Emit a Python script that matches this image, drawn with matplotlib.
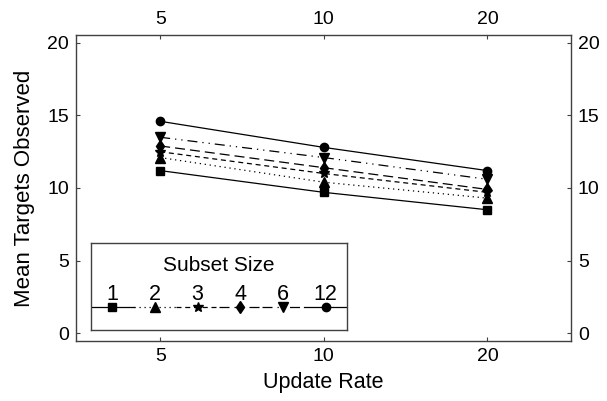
import matplotlib
matplotlib.use("Agg")
import matplotlib.pyplot as plt
from matplotlib.ticker import FixedLocator, NullLocator

plt.rcParams['font.family'] = ['Liberation Sans', 'DejaVu Sans']

update_rate = [5, 10, 20]
subset_sizes = ["1", "2", "3", "4", "6", "12"]
values = {
    "1":  [11.2, 9.7, 8.5],
    "2":  [12.1, 10.4, 9.3],
    "3":  [12.5, 11.0, 9.7],
    "4":  [12.9, 11.4, 9.9],
    "6":  [13.5, 12.1, 10.6],
    "12": [14.6, 12.8, 11.2],
}
markers = {"1": "s", "2": "^", "3": "*", "4": "d", "6": "v", "12": "o"}
msizes = {"1": 5.5, "2": 7, "3": 7, "4": 6.5, "6": 7, "12": 6}
styles = {"1": "-", "2": (0, (1, 3)), "3": (0, (4, 3)), "4": (0, (8, 4)),
          "6": (0, (8, 4, 1, 4, 1, 4)), "12": "-"}
yticks = [0, 5, 10, 15, 20]

fig = plt.figure(figsize=(6.07, 4.01), dpi=100)
ax = fig.add_axes([76/607, 1-341/401, (571-76)/607, (341-35)/401])
ax.set_xscale('log')
for s in subset_sizes:
    ax.plot(update_rate, values[s], color='black', lw=0.9, linestyle=styles[s],
            marker=markers[s], markersize=msizes[s])
ax.set_xlim(3.5, 28.5)
ax.set_ylim(-0.55, 20.55)
ax.xaxis.set_major_locator(FixedLocator(update_rate))
ax.xaxis.set_minor_locator(NullLocator())
ax.set_xticklabels([str(v) for v in update_rate])
ax.set_yticks(yticks)
ax.tick_params(direction='in', length=3, width=0.8, color='#404040', labelsize=14,
               top=True, right=True, labeltop=True, labelright=True, pad=5)
for sp in ax.spines.values():
    sp.set_color('#404040')
    sp.set_linewidth(1.0)
ax.set_xlabel("Update Rate", fontsize=15.5, labelpad=5)
ax.set_ylabel("Mean Targets Observed", fontsize=16, labelpad=9)

# legend box
x0, x1 = 91, 347
y0, y1 = 243, 330
lax = fig.add_axes([x0/607, 1-y1/401, (x1-x0)/607, (y1-y0)/401])
lax.set_xlim(0, 6)
lax.set_ylim(0, 1)
lax.set_xticks([])
lax.set_yticks([])
for sp in lax.spines.values():
    sp.set_color('#404040')
    sp.set_linewidth(1.0)
line_y = 1 - (306.7 - y0)/(y1 - y0)
lab_y = 1 - (294 - y0)/(y1 - y0)
title_y = 1 - (265.5 - y0)/(y1 - y0)
lax.text(3, title_y, "Subset Size", ha='center', va='center', fontsize=15)
for i, s in enumerate(subset_sizes):
    lax.plot([i, i+1], [line_y, line_y], color='black', lw=0.9, linestyle=styles[s])
    lax.plot([i+0.5], [line_y], color='black', marker=markers[s], markersize=msizes[s])
    lax.text(i+0.5, lab_y, s, ha='center', va='center', fontsize=15.5)

fig.savefig("out.png", dpi=100)
